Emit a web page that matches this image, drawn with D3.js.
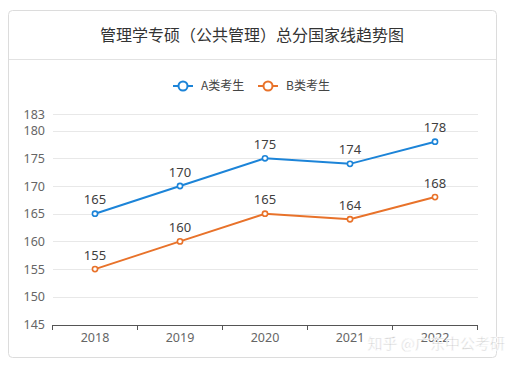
<!DOCTYPE html>
<html>
<head>
<meta charset="utf-8">
<script src="https://cdn.jsdelivr.net/npm/d3@7"></script>
<style>
  body { margin: 0; background: #fff; font-family: "Noto Sans CJK SC", "Noto Sans", sans-serif; }
</style>
</head>
<body>
<div id="graph"></div>
<script>
var years = ["2018", "2019", "2020", "2021", "2022"];
var seriesA = [165, 170, 175, 174, 178];
var seriesB = [155, 160, 165, 164, 168];
var seriesNames = ["A类考生", "B类考生"];
var seriesColors = ["#1c84d8", "#e8722a"];
var yTicks = [145, 150, 155, 160, 165, 170, 175, 180, 183];

var W = 511, H = 365;
var svg = d3.select("#graph").append("svg")
    .attr("width", W)
    .attr("height", H);

// card
svg.append("rect")
    .attr("x", 8.5).attr("y", 10.5)
    .attr("width", 488).attr("height", 347)
    .attr("rx", 4)
    .attr("fill", "#fff")
    .attr("stroke", "#dcdcdc");
svg.append("line")
    .attr("x1", 9).attr("x2", 496)
    .attr("y1", 59.5).attr("y2", 59.5)
    .attr("stroke", "#e2e2e2");

svg.append("text")
    .attr("x", 252).attr("y", 35)
    .attr("dy", "0.35em")
    .attr("text-anchor", "middle")
    .style("font-size", "16px")
    .style("fill", "#333")
    .text("管理学专硕（公共管理）总分国家线趋势图");

var x = d3.scaleBand().domain(years).range([52.5, 477.5]);
var y = d3.scaleLinear().domain([145, 183]).range([324.5, 114]);

// grid
svg.selectAll("line.grid")
    .data(yTicks.slice(1))
    .enter().append("line")
    .attr("class", "grid")
    .attr("x1", 53).attr("x2", 478)
    .attr("y1", function(d) { return Math.round(y(d)) + 0.5; })
    .attr("y2", function(d) { return Math.round(y(d)) + 0.5; })
    .attr("stroke", "#e8e8e8");

// y axis labels
var yAxis = d3.axisLeft(y).tickValues(yTicks).tickSize(0).tickPadding(8);
svg.append("g")
    .attr("transform", "translate(53,0)")
    .call(yAxis)
    .call(function(g) { g.select(".domain").remove(); })
    .selectAll("text")
    .style("font-size", "12.5px")
    .style("font-family", "\"Noto Sans\", sans-serif")
    .style("fill", "#666");

// x axis
var xAxis = d3.axisBottom(x).tickSize(0).tickPadding(8);
var gx = svg.append("g")
    .attr("transform", "translate(0,325)")
    .call(xAxis);
gx.select(".domain").attr("stroke", "#555");
gx.selectAll("text")
    .style("font-size", "12.5px")
    .style("font-family", "\"Noto Sans\", sans-serif")
    .style("fill", "#666");
svg.selectAll("line.xtick")
    .data(d3.range(years.length + 1))
    .enter().append("line")
    .attr("class", "xtick")
    .attr("x1", function(i) { return x.range()[0] + i * x.step(); })
    .attr("x2", function(i) { return x.range()[0] + i * x.step(); })
    .attr("y1", 325).attr("y2", 330)
    .attr("stroke", "#555");

// lines
var series = [seriesA, seriesB];
var line = d3.line()
    .x(function(d, i) { return x(years[i]) + x.bandwidth() / 2; })
    .y(function(d) { return y(d); });

series.forEach(function(s, k) {
    svg.append("path")
        .datum(s)
        .attr("d", line)
        .attr("fill", "none")
        .attr("stroke", seriesColors[k])
        .attr("stroke-width", 2);
    svg.selectAll(".pt" + k)
        .data(s)
        .enter().append("circle")
        .attr("class", "pt" + k)
        .attr("cx", function(d, i) { return x(years[i]) + x.bandwidth() / 2; })
        .attr("cy", function(d) { return y(d); })
        .attr("r", 2.6)
        .attr("fill", "#fff")
        .attr("stroke", seriesColors[k])
        .attr("stroke-width", 1.6);
    svg.selectAll(".lbl" + k)
        .data(s)
        .enter().append("text")
        .attr("class", "lbl" + k)
        .attr("x", function(d, i) { return x(years[i]) + x.bandwidth() / 2; })
        .attr("y", function(d) { return y(d) - 14; })
        .attr("dy", "0.35em")
        .attr("text-anchor", "middle")
        .style("font-size", "13px")
        .style("font-family", "\"Noto Sans\", sans-serif")
        .style("fill", "#404040")
        .text(function(d) { return d; });
});

// legend
var legendX = [173, 258];
seriesNames.forEach(function(name, k) {
    var lx = legendX[k];
    svg.append("line")
        .attr("x1", lx).attr("x2", lx + 20)
        .attr("y1", 86).attr("y2", 86)
        .attr("stroke", seriesColors[k])
        .attr("stroke-width", 2);
    svg.append("circle")
        .attr("cx", lx + 10).attr("cy", 86)
        .attr("r", 4.5)
        .attr("fill", "#fff")
        .attr("stroke", seriesColors[k])
        .attr("stroke-width", 2);
    svg.append("text")
        .attr("x", lx + 28).attr("y", 86)
        .attr("dy", "0.35em")
        .style("font-size", "12px")
        .style("fill", "#444")
        .text(name);
});

// watermark
svg.append("text")
    .attr("x", 505).attr("y", 344)
    .attr("dy", "0.35em")
    .attr("text-anchor", "end")
    .style("font-size", "15px")
    .style("fill", "#c4c4c4")
    .style("stroke", "#fff")
    .style("stroke-width", 0.6)
    .text("知乎 @广东中公考研");
</script>
</body>
</html>
